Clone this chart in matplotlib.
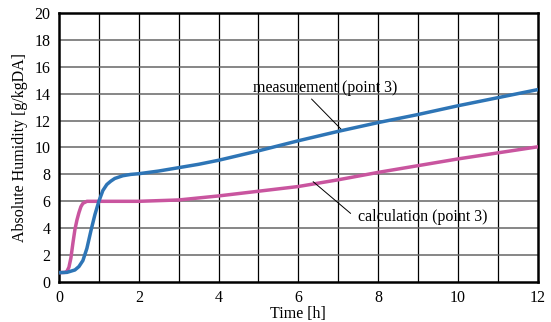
import matplotlib
matplotlib.use('Agg')
import matplotlib.pyplot as plt

# ── Data ──────────────────────────────────────────────────────
meas_t = [0, 0.2, 0.4, 0.5, 0.6, 0.7, 0.8, 0.9, 1.0, 1.1, 1.2, 1.3, 1.4, 1.5, 1.6,
          1.8, 2.0, 2.5, 3.0, 3.5, 4, 5, 6, 7, 8, 9, 10, 11, 12]
meas_y = [0.7, 0.72, 0.9, 1.15, 1.6, 2.5, 3.8, 5.0, 6.0, 6.8, 7.25, 7.5, 7.7, 7.8, 7.9,
          8.0, 8.05, 8.25, 8.5, 8.75, 9.05, 9.75, 10.5, 11.2, 11.85, 12.45, 13.1, 13.7, 14.3]

calc_t = [0, 0.15, 0.2, 0.25, 0.3, 0.35, 0.4, 0.45, 0.5, 0.55, 0.6, 0.7, 1.0, 2.0,
          3, 4, 5, 6, 7, 8, 9, 10, 11, 12]
calc_y = [0.7, 0.72, 0.8, 1.1, 1.8, 2.9, 3.9, 4.6, 5.15, 5.6, 5.85, 6.0, 6.0, 6.0,
          6.1, 6.4, 6.75, 7.1, 7.6, 8.15, 8.65, 9.15, 9.6, 10.05]

BLUE = '#2e75b6'
PINK = '#c9559f'

plt.rcParams['font.family'] = ['Liberation Serif', 'DejaVu Serif']

fig = plt.figure(figsize=(5.51, 3.22), dpi=100)
ax = fig.add_axes([0.107, 0.124, 0.869, 0.836])

# grid: black verticals every hour, grey horizontals every 2
for x in range(1, 12):
    ax.axvline(x, color='black', lw=0.9, zorder=1)
for y in range(2, 20, 2):
    ax.axhline(y, color='#666666', lw=1.1, zorder=1)

ax.plot(calc_t, calc_y, color=PINK, lw=2.5, zorder=3)
ax.plot(meas_t, meas_y, color=BLUE, lw=2.5, zorder=4)

ax.set_xlim(0, 12)
ax.set_ylim(0, 20)
ax.set_xticks([0, 2, 4, 6, 8, 10, 12])
ax.set_yticks(range(0, 21, 2))
ax.tick_params(length=0, labelsize=11.5, pad=6)
for s in ax.spines.values():
    s.set_linewidth(1.8)

ax.set_xlabel('Time [h]', fontsize=11.5, labelpad=0)
ax.set_ylabel('Absolute Humidity [g/kgDA]', fontsize=11.5, labelpad=5)

# labels with thin leader lines
ax.text(6.67, 14.45, 'measurement (point 3)', fontsize=11.5, ha='center', va='center')
ax.annotate('', xy=(7.09, 11.3), xytext=(6.33, 13.6),
            arrowprops=dict(arrowstyle='-', color='black', lw=0.7,
                            shrinkA=0, shrinkB=0))
ax.text(9.12, 4.85, 'calculation (point 3)', fontsize=11.5, ha='center', va='center')
ax.annotate('', xy=(6.37, 7.46), xytext=(7.31, 5.1),
            arrowprops=dict(arrowstyle='-', color='black', lw=0.7,
                            shrinkA=0, shrinkB=0))

plt.savefig('out.png', dpi=100)
